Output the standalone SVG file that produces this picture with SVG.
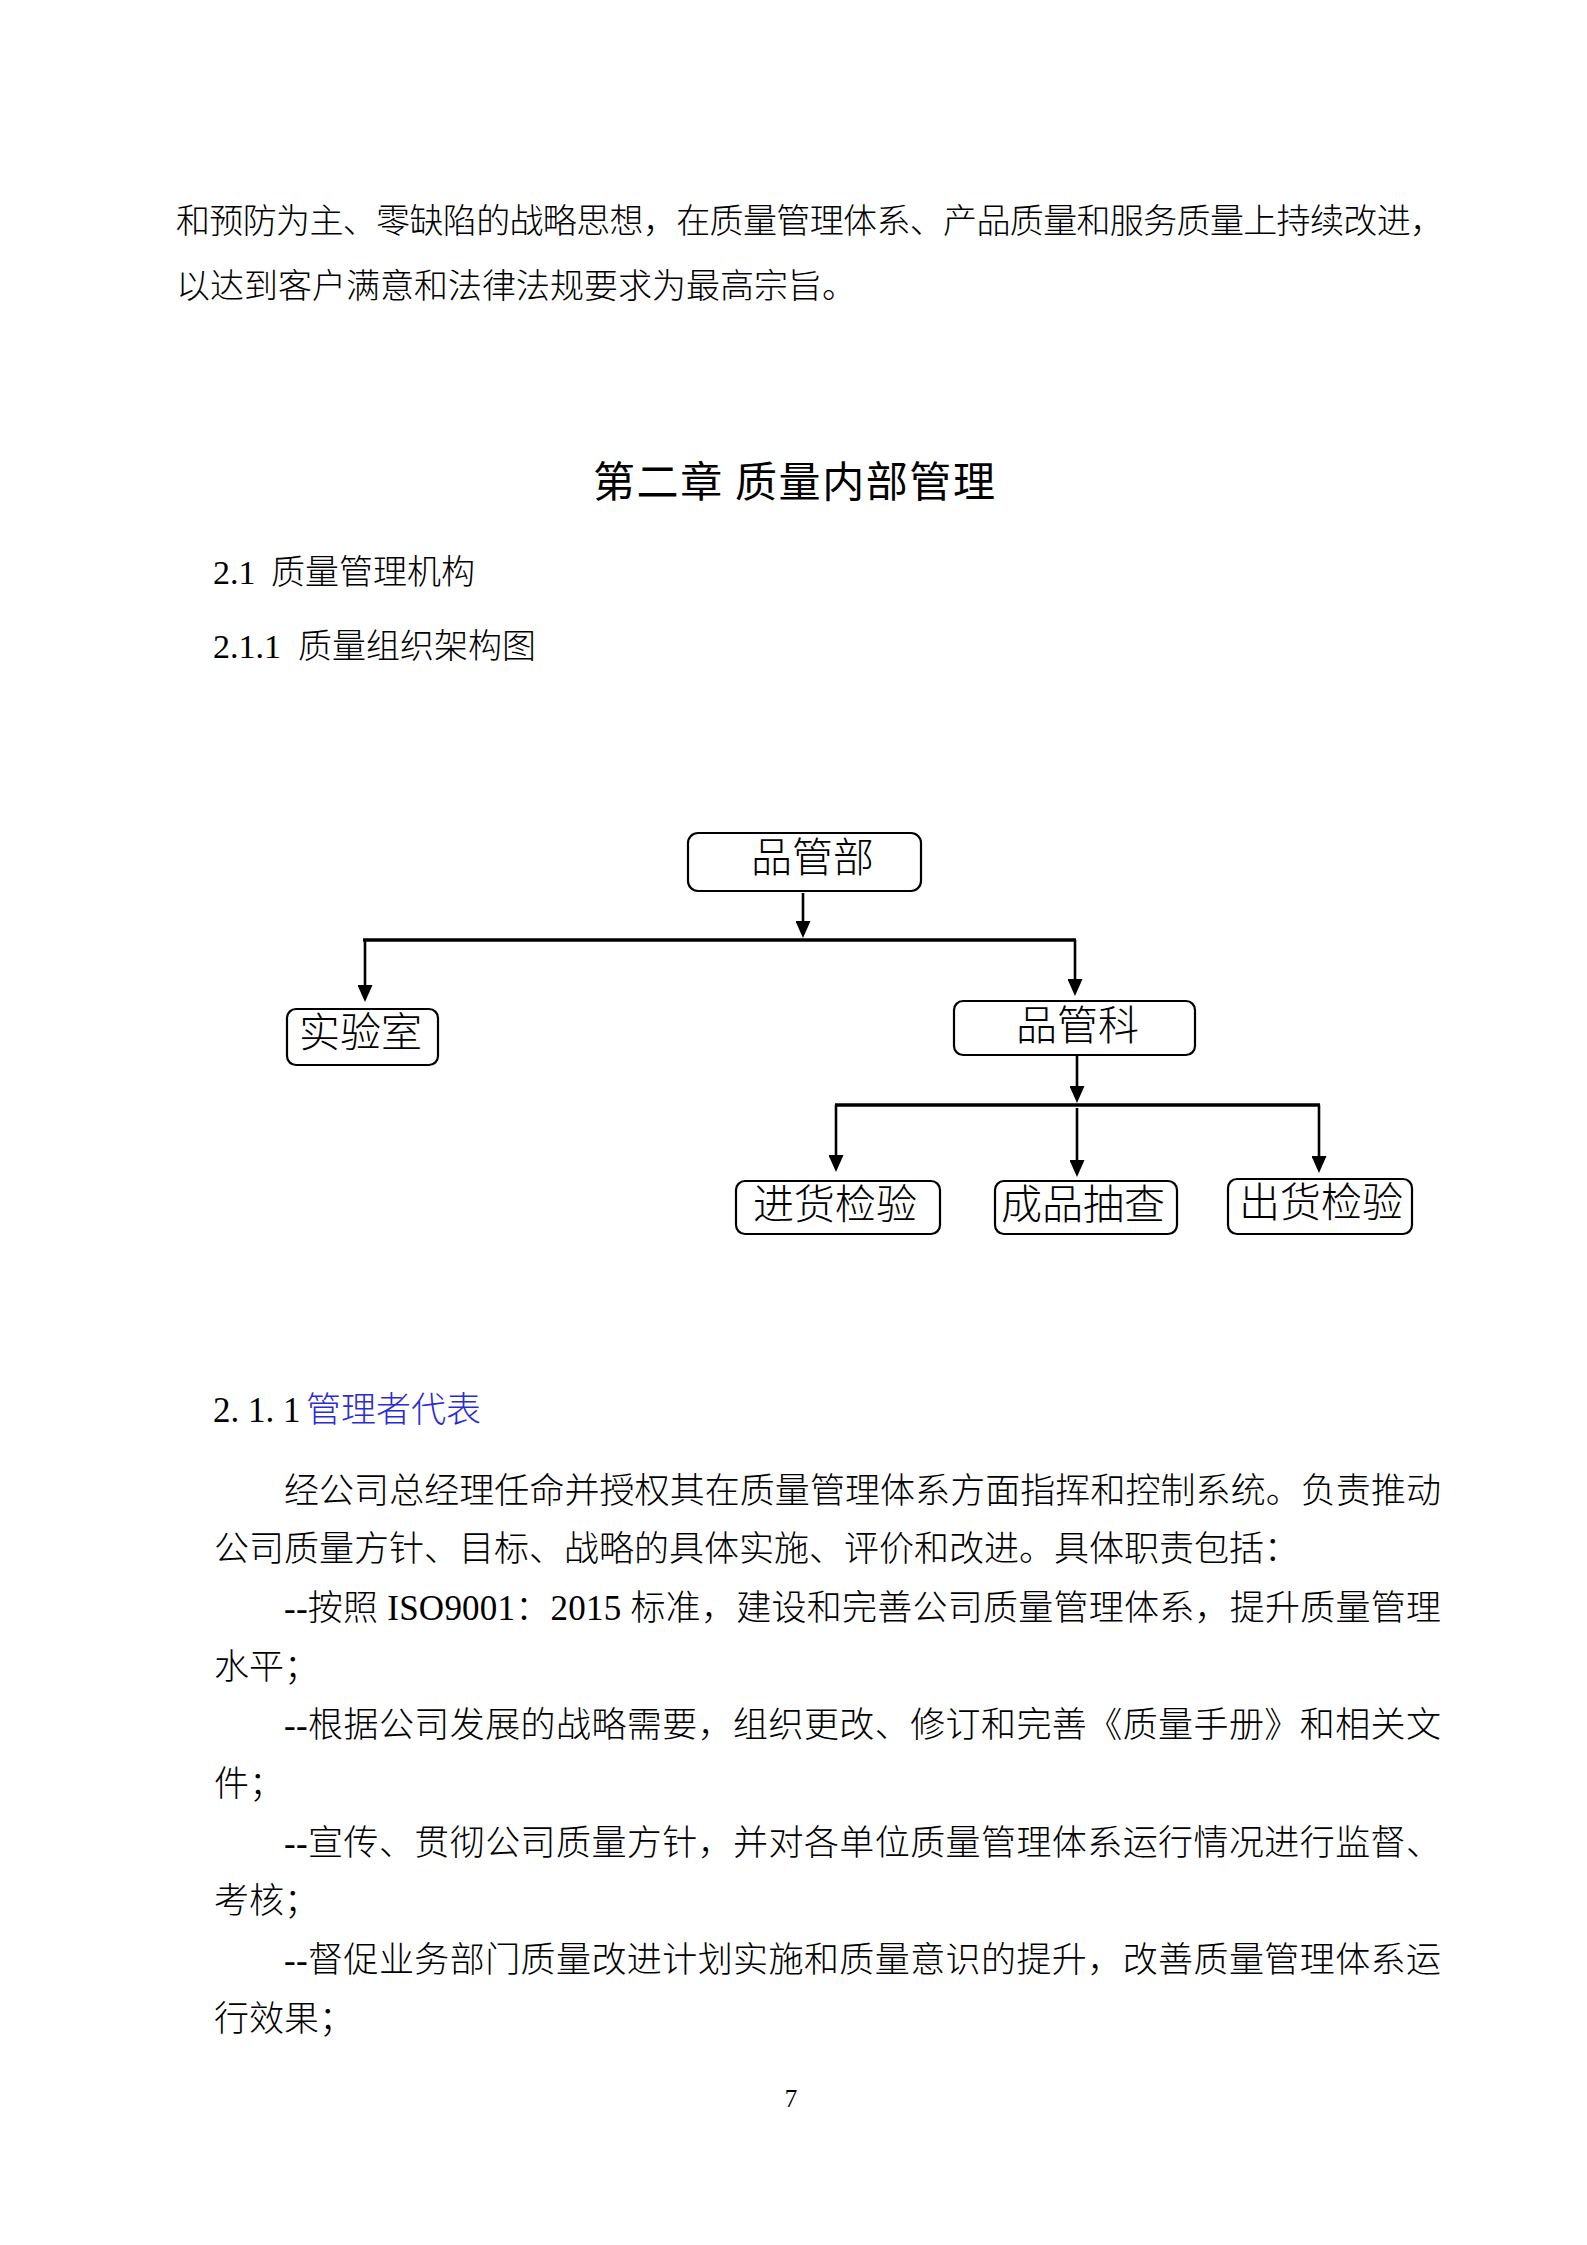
<svg xmlns="http://www.w3.org/2000/svg" width="1587" height="2245" viewBox="0 0 1587 2245">
<style>
  .body { font-family: "Liberation Serif", "Noto Sans CJK SC", serif; font-size: 35px; fill: #000; font-weight: 300; }
  .upper { font-size: 34px; }
  .title { font-family: "Noto Sans CJK SC", "Liberation Sans", sans-serif; font-size: 42px; fill: #000; }
  .box { fill: #fff; stroke: #000; stroke-width: 2.2; }
  .lbl { font-family: "Noto Sans CJK SC", "Liberation Sans", sans-serif; font-size: 41px; fill: #000; font-weight: 300; }
  .bar { stroke: #000; stroke-width: 3.4; fill: none; }
  .arrow { stroke: #000; stroke-width: 2.6; fill: none; marker-end: url(#ah); }
  .blue { fill: #2b2bd6; }
  .pn { font-family: "Liberation Serif", serif; font-size: 25px; fill: #000; }
</style>
<defs>
  <marker id="ah" markerUnits="userSpaceOnUse" viewBox="0 0 17 15" markerWidth="17" markerHeight="15" refX="13" refY="7.5" orient="auto">
    <path d="M0,0 L17,7.5 L0,15 z" fill="#000"/>
  </marker>
</defs>
<rect x="0" y="0" width="1587" height="2245" fill="#fff"/>

<g id="intro-text">
  <text class="body upper" x="176" y="233" textLength="1268" lengthAdjust="spacing">和预防为主、零缺陷的战略思想，在质量管理体系、产品质量和服务质量上持续改进，</text>
  <text class="body upper" x="176" y="298">以达到客户满意和法律法规要求为最高宗旨。</text>
</g>

<g id="headings">
  <text class="title" x="593" y="497" textLength="402" lengthAdjust="spacing">第二章 质量内部管理</text>
  <text class="body upper" x="213" y="584">2.1<tspan x="271">质量管理机构</tspan></text>
  <text class="body upper" x="213" y="658">2.1.1<tspan x="298">质量组织架构图</tspan></text>
</g>

<g id="connectors">
  <line class="arrow" x1="803" y1="893" x2="803" y2="934"/>
  <line class="bar" x1="363" y1="940" x2="1076" y2="940"/>
  <line class="arrow" x1="365" y1="940" x2="365" y2="998"/>
  <line class="arrow" x1="1075" y1="940" x2="1075" y2="992"/>
  <line class="arrow" x1="1077" y1="1055" x2="1077" y2="1099"/>
  <line class="bar" x1="835" y1="1105" x2="1320" y2="1105"/>
  <line class="arrow" x1="836" y1="1105" x2="836" y2="1168"/>
  <line class="arrow" x1="1077" y1="1108" x2="1077" y2="1173"/>
  <line class="arrow" x1="1319" y1="1105" x2="1319" y2="1169"/>
</g>

<g id="node-pinguanbu">
  <rect class="box" x="688" y="833" width="233" height="58" rx="10"/>
  <text class="lbl" x="751" y="872">品管部</text>
</g>
<g id="node-shiyanshi">
  <rect class="box" x="287" y="1009" width="151" height="56" rx="9"/>
  <text class="lbl" x="299" y="1047">实验室</text>
</g>
<g id="node-pinguanke">
  <rect class="box" x="954" y="1001" width="241" height="54" rx="9"/>
  <text class="lbl" x="1016" y="1040">品管科</text>
</g>
<g id="node-jinhuo">
  <rect class="box" x="736" y="1181" width="204" height="53" rx="9"/>
  <text class="lbl" x="753" y="1219">进货检验</text>
</g>
<g id="node-chengpin">
  <rect class="box" x="995" y="1181" width="182" height="53" rx="9"/>
  <text class="lbl" x="1001" y="1219">成品抽查</text>
</g>
<g id="node-chuhuo">
  <rect class="box" x="1228" y="1179" width="184" height="55" rx="9"/>
  <text class="lbl" x="1239" y="1217">出货检验</text>
</g>

<g id="section-text">
  <text class="body" x="213" y="1422">2. 1. 1<tspan class="blue" x="306">管理者代表</tspan></text>
  <text class="body" x="284" y="1502.5" textLength="1157" lengthAdjust="spacing">经公司总经理任命并授权其在质量管理体系方面指挥和控制系统。负责推动</text>
  <text class="body" x="214" y="1561.2">公司质量方针、目标、战略的具体实施、评价和改进。具体职责包括：</text>
  <text class="body" x="284" y="1619.9" textLength="1157" lengthAdjust="spacing">--按照 ISO9001：2015 标准，建设和完善公司质量管理体系，提升质量管理</text>
  <text class="body" x="214" y="1678.6">水平；</text>
  <text class="body" x="284" y="1737.3" textLength="1157" lengthAdjust="spacing">--根据公司发展的战略需要，组织更改、修订和完善《质量手册》和相关文</text>
  <text class="body" x="214" y="1796">件；</text>
  <text class="body" x="284" y="1854.7" textLength="1157" lengthAdjust="spacing">--宣传、贯彻公司质量方针，并对各单位质量管理体系运行情况进行监督、</text>
  <text class="body" x="214" y="1913.4">考核；</text>
  <text class="body" x="284" y="1972.1" textLength="1157" lengthAdjust="spacing">--督促业务部门质量改进计划实施和质量意识的提升，改善质量管理体系运</text>
  <text class="body" x="214" y="2030.8">行效果；</text>
</g>

<text class="pn" x="791" y="2107" text-anchor="middle">7</text>
</svg>
